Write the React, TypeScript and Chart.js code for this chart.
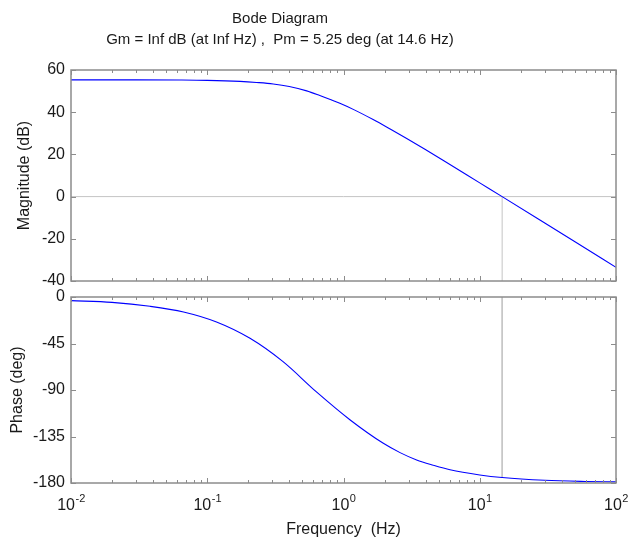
import { useEffect, useRef } from "react";
import { Chart, registerables } from "chart.js";

Chart.register(...registerables);

// ---- data ----
const magFreqHz = [0.01, 0.03, 0.063, 0.1, 0.174, 0.23, 0.305, 0.4, 0.537, 0.67, 0.8, 0.94, 1.2, 1.65, 2.2, 2.91, 3.96, 6, 10, 14.6, 30, 50, 100];
const magDb = [55.3, 55.3, 55.25, 55.1, 54.6, 54.1, 53.4, 52.2, 50.1, 47.9, 46.0, 44.2, 41.1, 36.5, 32.0, 27.5, 22.4, 15.3, 6.5, 0, -12.5, -21.4, -33.5];

const phaseFreqHz = [0.01, 0.02, 0.038, 0.067, 0.117, 0.206, 0.36, 0.63, 1.12, 1.96, 2.6, 3.44, 4.56, 6.05, 10, 14.6, 30, 60, 100];
const phaseDeg = [-3.5, -5.2, -9, -14.5, -24.2, -40, -62.6, -91.6, -119, -141.6, -150.6, -157.7, -162.8, -167.2, -172.2, -174.75, -177.4, -178.5, -178.9];

const freqDecades = [0.01, 0.1, 1, 10, 100];
const decadeExponents = ["-2", "-1", "0", "1", "2"];
const magTicks = [-40, -20, 0, 20, 40, 60];
const phaseTicks = [-180, -135, -90, -45, 0];
const titleLines = ["Bode Diagram", "Gm = Inf dB (at Inf Hz) ,  Pm = 5.25 deg (at 14.6 Hz)"];
const crossoverHz = 14.6;
const phaseAtCrossover = -174.75;

const FONT = '"Liberation Sans", Arial, Helvetica, sans-serif';
const TEXT = "#1a1a1a";
const FRAME = "#8c8c8c";
const MARGIN_LINE = "#c4c4c4";
const CURVE = "#0000ff";

Chart.defaults.font.family = FONT;

const frameTicks = {
  id: "frameTicks",
  afterDatasetsDraw(chart: any) {
    const { ctx, chartArea: a, scales } = chart;
    const x = scales.x;
    const y = scales.y;
    ctx.save();
    ctx.strokeStyle = FRAME;
    ctx.lineWidth = 1;
    ctx.beginPath();
    for (let d = 0; d < freqDecades.length; d++) {
      const base = freqDecades[d];
      const px = Math.round(x.getPixelForValue(base)) + 0.5;
      ctx.moveTo(px, a.top);
      ctx.lineTo(px, a.top + 5);
      ctx.moveTo(px, a.bottom);
      ctx.lineTo(px, a.bottom - 5);
      if (d < freqDecades.length - 1) {
        for (let k = 2; k <= 9; k++) {
          const mx = Math.round(x.getPixelForValue(base * k)) + 0.5;
          ctx.moveTo(mx, a.top);
          ctx.lineTo(mx, a.top + 3);
          ctx.moveTo(mx, a.bottom);
          ctx.lineTo(mx, a.bottom - 3);
        }
      }
    }
    for (const t of y.ticks) {
      const py = Math.round(y.getPixelForValue(t.value)) + 0.5;
      ctx.moveTo(a.left, py);
      ctx.lineTo(a.left + 5, py);
      ctx.moveTo(a.right, py);
      ctx.lineTo(a.right - 5, py);
    }
    ctx.stroke();
    ctx.lineWidth = 1.5;
    ctx.strokeRect(a.left, a.top, a.right - a.left, a.bottom - a.top);
    ctx.restore();
  },
};

// "10" with a raised exponent under each decade tick of the x scale
const decadeLabels = {
  id: "decadeLabels",
  afterDraw(chart: any) {
    const { ctx, chartArea: a, scales } = chart;
    const x = scales.x;
    ctx.save();
    ctx.fillStyle = TEXT;
    ctx.textBaseline = "alphabetic";
    ctx.textAlign = "left";
    const baseFont = `16px ${FONT}`;
    const expFont = `11px ${FONT}`;
    freqDecades.forEach((v, i) => {
      ctx.font = baseFont;
      const wBase = ctx.measureText("10").width;
      ctx.font = expFont;
      const wExp = ctx.measureText(decadeExponents[i]).width;
      const cx = x.getPixelForValue(v);
      const left = cx - (wBase + wExp) / 2;
      ctx.font = baseFont;
      ctx.fillText("10", left, a.bottom + 27);
      ctx.font = expFont;
      ctx.fillText(decadeExponents[i], left + wBase + 0.5, a.bottom + 18.5);
    });
    ctx.restore();
  },
};

const bodeTitle = {
  id: "bodeTitle",
  afterDraw(chart: any) {
    const { ctx } = chart;
    ctx.save();
    ctx.fillStyle = TEXT;
    ctx.font = `15px ${FONT}`;
    ctx.textAlign = "center";
    ctx.textBaseline = "middle";
    ctx.fillText(titleLines[0], 280, 18.5);
    ctx.fillText(titleLines[1], 280, 39.5);
    ctx.restore();
  },
};

function xScale(showTitle: boolean, height: number) {
  return {
    type: "logarithmic" as const,
    min: freqDecades[0],
    max: freqDecades[freqDecades.length - 1],
    afterBuildTicks: (s: any) => {
      s.ticks = freqDecades.map((v) => ({ value: v }));
    },
    afterFit: (s: any) => {
      s.height = height;
      s.paddingLeft = 0;
      s.paddingRight = 0;
    },
    grid: { display: false, drawTicks: false },
    border: { display: false },
    ticks: { display: false },
    title: {
      display: showTitle,
      text: "Frequency  (Hz)",
      color: TEXT,
      font: { size: 16, lineHeight: 0.9 },
      padding: { top: 0, bottom: 0 },
    },
  };
}

function yScale(min: number, max: number, ticks: number[], title: string, titlePad: number) {
  return {
    min,
    max,
    afterBuildTicks: (s: any) => {
      s.ticks = ticks.map((v) => ({ value: v }));
    },
    afterFit: (s: any) => {
      s.width = 71;
      s.paddingTop = 0;
      s.paddingBottom = 0;
    },
    grid: { display: false, drawTicks: false },
    border: { display: false },
    ticks: {
      padding: 6,
      color: TEXT,
      font: { size: 16 },
      callback: (v: any) => String(v),
    },
    title: {
      display: true,
      text: title,
      color: TEXT,
      font: { size: 16, lineHeight: 1.2 },
      padding: { top: titlePad, bottom: 0 },
    },
  };
}

const common = {
  responsive: false,
  animation: false as const,
  events: [] as any[],
  plugins: { legend: { display: false }, tooltip: { enabled: false }, title: { display: false } },
  elements: { point: { radius: 0 } },
};

export default function App() {
  const magRef = useRef<HTMLCanvasElement>(null);
  const phRef = useRef<HTMLCanvasElement>(null);

  useEffect(() => {
    const magChart = new Chart(magRef.current as HTMLCanvasElement, {
      type: "line",
      data: {
        datasets: [
          {
            data: magFreqHz.map((f, i) => ({ x: f, y: magDb[i] })),
            borderColor: CURVE,
            borderWidth: 1.1,
            cubicInterpolationMode: "monotone",
          },
          {
            data: [
              { x: freqDecades[0], y: 0 },
              { x: freqDecades[freqDecades.length - 1], y: 0 },
            ],
            borderColor: MARGIN_LINE,
            borderWidth: 1,
          },
          {
            data: [
              { x: crossoverHz, y: magTicks[0] },
              { x: crossoverHz, y: 0 },
            ],
            borderColor: MARGIN_LINE,
            borderWidth: 1,
          },
        ],
      },
      options: {
        ...common,
        layout: { padding: { top: 70, right: 12, left: 0, bottom: 0 } },
        scales: {
          x: xScale(false, 14),
          y: yScale(-40, 60, magTicks, "Magnitude (dB)", 15),
        },
      } as any,
      plugins: [frameTicks, bodeTitle],
    });

    const phaseChart = new Chart(phRef.current as HTMLCanvasElement, {
      type: "line",
      data: {
        datasets: [
          {
            data: phaseFreqHz.map((f, i) => ({ x: f, y: phaseDeg[i] })),
            borderColor: CURVE,
            borderWidth: 1.1,
            cubicInterpolationMode: "monotone",
          },
          {
            data: [
              { x: crossoverHz, y: 0 },
              { x: crossoverHz, y: phaseAtCrossover },
            ],
            borderColor: MARGIN_LINE,
            borderWidth: 1,
          },
        ],
      },
      options: {
        ...common,
        layout: { padding: { top: 37, right: 12, left: 0, bottom: 0 } },
        scales: {
          x: xScale(true, 54),
          y: yScale(-180, 0, phaseTicks, "Phase (deg)", 8),
        },
      } as any,
      plugins: [frameTicks, decadeLabels],
    });

    return () => {
      magChart.destroy();
      phaseChart.destroy();
    };
  }, []);

  return (
    <div
      style={{
        position: "fixed",
        left: 0,
        top: 0,
        width: 628,
        height: 537,
        overflow: "hidden",
        background: "#ffffff",
      }}
    >
      <canvas ref={magRef} width={628} height={295} style={{ position: "absolute", left: 0, top: 0 }} />
      <canvas ref={phRef} width={628} height={277} style={{ position: "absolute", left: 0, top: 260 }} />
    </div>
  );
}
